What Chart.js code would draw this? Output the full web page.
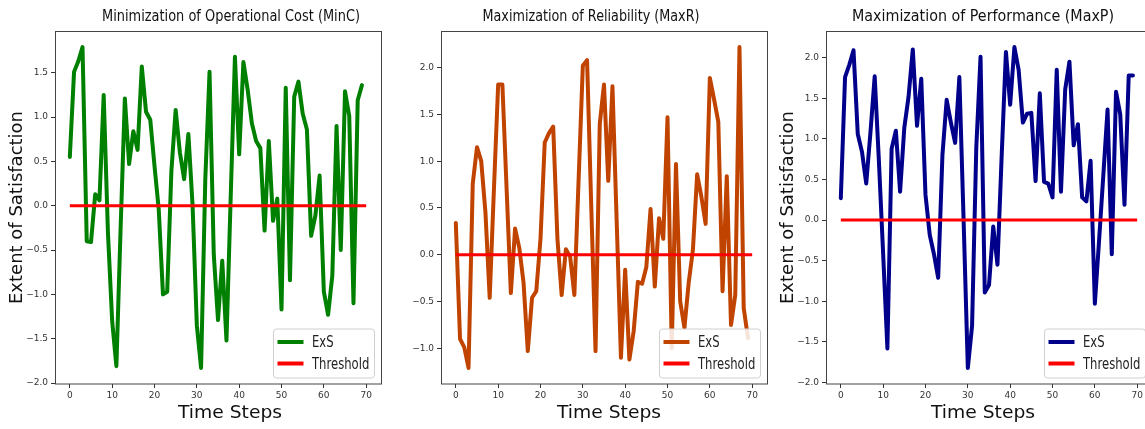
<!DOCTYPE html>
<html><head><meta charset="utf-8">
<script src="https://cdn.jsdelivr.net/npm/chart.js@4.4.0/dist/chart.umd.min.js"></script>
<style>
html,body{margin:0;padding:0;background:#fff;overflow:hidden;width:1145px;height:429px;position:relative;}
canvas{position:absolute;top:0;}
</style></head><body>
<canvas id="c1" width="385" height="429" style="left:0px"></canvas>
<canvas id="c2" width="385" height="429" style="left:386px"></canvas>
<canvas id="c3" width="385" height="429" style="left:771px"></canvas>
<script>
// ---- data ----
const timeSteps = [0,1,2,3,4,5,6,7,8,9,10,11,12,13,14,15,16,17,18,19,20,21,22,23,24,25,26,27,28,29,30,31,32,33,34,35,36,37,38,39,40,41,42,43,44,45,46,47,48,49,50,51,52,53,54,55,56,57,58,59,60,61,62,63,64,65,66,67,68,69];
const exsMinC = [0.55,1.51,1.63,1.79,-0.40,-0.41,0.13,0.06,1.25,-0.30,
  -1.30,-1.81,-0.25,1.21,0.47,0.84,0.63,1.57,1.06,0.97,
  0.45,-0.04,-1.00,-0.97,0.40,1.08,0.60,0.30,0.81,0.00,
  -1.35,-1.83,0.30,1.51,-0.55,-1.29,-0.62,-1.52,0.10,1.68,
  0.58,1.62,1.31,0.93,0.73,0.65,-0.28,0.73,-0.17,0.08,
  -1.17,1.33,-0.84,1.23,1.40,1.04,0.86,-0.34,-0.11,0.34,
  -0.97,-1.23,-0.79,0.90,-0.50,1.29,1.01,-1.10,1.19,1.36];
const exsMaxR = [0.34,-0.90,-0.99,-1.21,0.76,1.15,1.00,0.45,-0.46,0.70,
  1.82,1.82,0.70,-0.41,0.28,0.07,-0.30,-1.03,-0.46,-0.39,
  0.17,1.20,1.30,1.37,0.17,-0.43,0.06,-0.02,-0.43,0.80,
  2.02,2.08,0.50,-1.03,1.40,1.82,0.79,1.80,0.35,-1.10,
  -0.16,-1.12,-0.82,-0.29,-0.31,-0.13,0.49,-0.34,0.39,0.17,
  1.47,-1.00,0.97,-0.50,-0.78,-0.30,0.05,0.86,0.62,0.33,
  1.89,1.66,1.42,-0.39,0.84,-0.75,-0.43,2.22,-0.57,-0.89];
const exsMaxP = [0.27,1.76,1.91,2.09,1.06,0.84,0.45,1.08,1.77,0.72,
  -0.42,-1.58,0.88,1.10,0.35,1.14,1.52,2.10,1.16,1.74,
  0.31,-0.18,-0.42,-0.71,0.80,1.48,1.20,0.95,1.76,0.00,
  -1.82,-1.30,0.90,2.01,-0.89,-0.80,-0.08,-0.55,0.80,2.07,
  1.42,2.13,1.85,1.20,1.31,1.32,0.48,1.56,0.47,0.45,
  0.28,1.85,0.35,1.61,1.95,0.92,1.18,0.28,0.23,0.73,
  -1.03,-0.25,0.55,1.36,-0.42,1.58,1.30,0.19,1.78,1.78];
const thresholdX = [0, 70];
const thresholdY = [0, 0];
const xTickLabels = [0,10,20,30,40,50,60,70];
const yTicksMinC = [-2.0,-1.5,-1.0,-0.5,0.0,0.5,1.0,1.5];
const yTicksMaxR = [-1.0,-0.5,0.0,0.5,1.0,1.5,2.0];
const yTicksMaxP = [-2.0,-1.5,-1.0,-0.5,0.0,0.5,1.0,1.5,2.0];
const titles = ['Minimization of Operational Cost (MinC)','Maximization of Reliability (MaxR)','Maximization of Performance (MaxP)'];
const xAxisTitle = 'Time Steps';
const yAxisTitle = 'Extent of Satisfaction';
const seriesLabels = ['ExS','Threshold'];

// ---- styling ----
const FONT = "'DejaVu Sans', sans-serif";

function squishText(ctx, text, x, y, sx, align) {
  ctx.save();
  ctx.translate(x, y);
  ctx.scale(sx, 1);
  ctx.textAlign = align;
  ctx.fillText(text, 0, 0);
  ctx.restore();
}

const panelPlugin = {
  id: 'panel',
  afterDraw(chart, args, o) {
    const {ctx, chartArea: a} = chart;
    ctx.save();
    // frame (spines)
    ctx.strokeStyle = '#444';
    ctx.lineWidth = 1;
    ctx.strokeRect(Math.round(a.left) + 0.5, Math.round(a.top) + 0.5,
                   Math.round(a.right - a.left), Math.round(a.bottom - a.top) - 0.5);
    ctx.fillStyle = '#111';
    ctx.textBaseline = 'middle';
    // title
    ctx.font = '16px ' + FONT;
    const tw = ctx.measureText(o.title).width;
    squishText(ctx, o.title, o.titleX, o.titleY, o.titleW / tw, 'center');
    // x axis title
    ctx.font = '18px ' + FONT;
    const xw = ctx.measureText(xAxisTitle).width;
    squishText(ctx, xAxisTitle, o.xTitleX, 413, o.xTitleW / xw, 'center');
    // legend (lower right)
    const w = 101, h = 49;
    const bx = a.right - 6.5 - w, by = a.bottom - 6 - h;
    ctx.beginPath();
    if (ctx.roundRect) ctx.roundRect(bx, by, w, h, 3); else ctx.rect(bx, by, w, h);
    ctx.fillStyle = 'rgba(255,255,255,0.85)';
    ctx.fill();
    ctx.strokeStyle = '#d0d0d0';
    ctx.stroke();
    ctx.font = '15.5px ' + FONT;
    chart.data.datasets.forEach((ds, i) => {
      const ly = by + 13 + i * 21.5;
      ctx.beginPath();
      ctx.strokeStyle = ds.borderColor;
      ctx.lineWidth = 4;
      ctx.moveTo(bx + 4, ly);
      ctx.lineTo(bx + 30, ly);
      ctx.stroke();
      ctx.fillStyle = '#222';
      squishText(ctx, ds.label, bx + 38.5, ly + 1, 0.75, 'left');
    });
    ctx.restore();
  }
};

function buildChart(id, series, color, yTicks, title, titleX, titleW, xTitleX, showYTitle) {
  const lo = Math.min(...series), hi = Math.max(...series);
  const m = (hi - lo) * 0.05;
  return new Chart(document.getElementById(id), {
    type: 'line',
    data: {
      datasets: [
        { label: seriesLabels[0], data: timeSteps.map((t, i) => ({x: t, y: series[i]})),
          borderColor: color, borderWidth: 4, pointRadius: 0, tension: 0, fill: false, order: 1,
          borderJoinStyle: 'round', borderCapStyle: 'round' },
        { label: seriesLabels[1], data: thresholdX.map((x, i) => ({x: x, y: thresholdY[i]})),
          borderColor: '#ff0000', borderWidth: 3, pointRadius: 0, fill: false, order: 0 }
      ]
    },
    options: {
      responsive: false, animation: false, devicePixelRatio: 1,
      layout: { padding: { top: 31, right: 4, left: 0, bottom: 0 } },
      plugins: {
        legend: { display: false }, tooltip: { enabled: false }, title: { display: false },
        panel: { title: title, titleX: titleX, titleY: 17, titleW: titleW, xTitleX: xTitleX, xTitleW: 104 }
      },
      scales: {
        x: {
          type: 'linear', min: -3.5, max: 73.5,
          afterBuildTicks: s => { s.ticks = xTickLabels.map(v => ({value: v})); },
          afterFit: s => { s.height = 45; },
          grid: { display: true, drawOnChartArea: false, drawTicks: true, tickLength: 4, tickColor: '#333' },
          border: { display: false },
          ticks: { font: { family: FONT, size: 9 }, color: '#333', padding: 2, maxRotation: 0, autoSkip: false },
          title: { display: false }
        },
        y: {
          type: 'linear', min: lo - m, max: hi + m,
          afterBuildTicks: s => { s.ticks = yTicks.map(v => ({value: v})); },
          afterFit: s => { s.width = 55; },
          grid: { display: true, drawOnChartArea: false, drawTicks: true, tickLength: 4, tickColor: '#333' },
          border: { display: false },
          ticks: { font: { family: FONT, size: 9 }, color: '#333', padding: 3,
                   callback: v => v.toFixed(1).replace('-', '\u2212') },
          title: { display: showYTitle, text: yAxisTitle, font: { family: FONT, size: 18 }, color: '#111', padding: { top: 7, bottom: 0 } }
        }
      }
    },
    plugins: [panelPlugin]
  });
}

buildChart('c1', exsMinC, '#008000', yTicksMinC, titles[0], 231, 258, 230, true);
buildChart('c2', exsMaxR, '#c04400', yTicksMaxR, titles[1], 205, 217, 223, false);
buildChart('c3', exsMaxP, '#00008b', yTicksMaxP, titles[2], 212, 262, 212, true);
</script>
</body></html>
